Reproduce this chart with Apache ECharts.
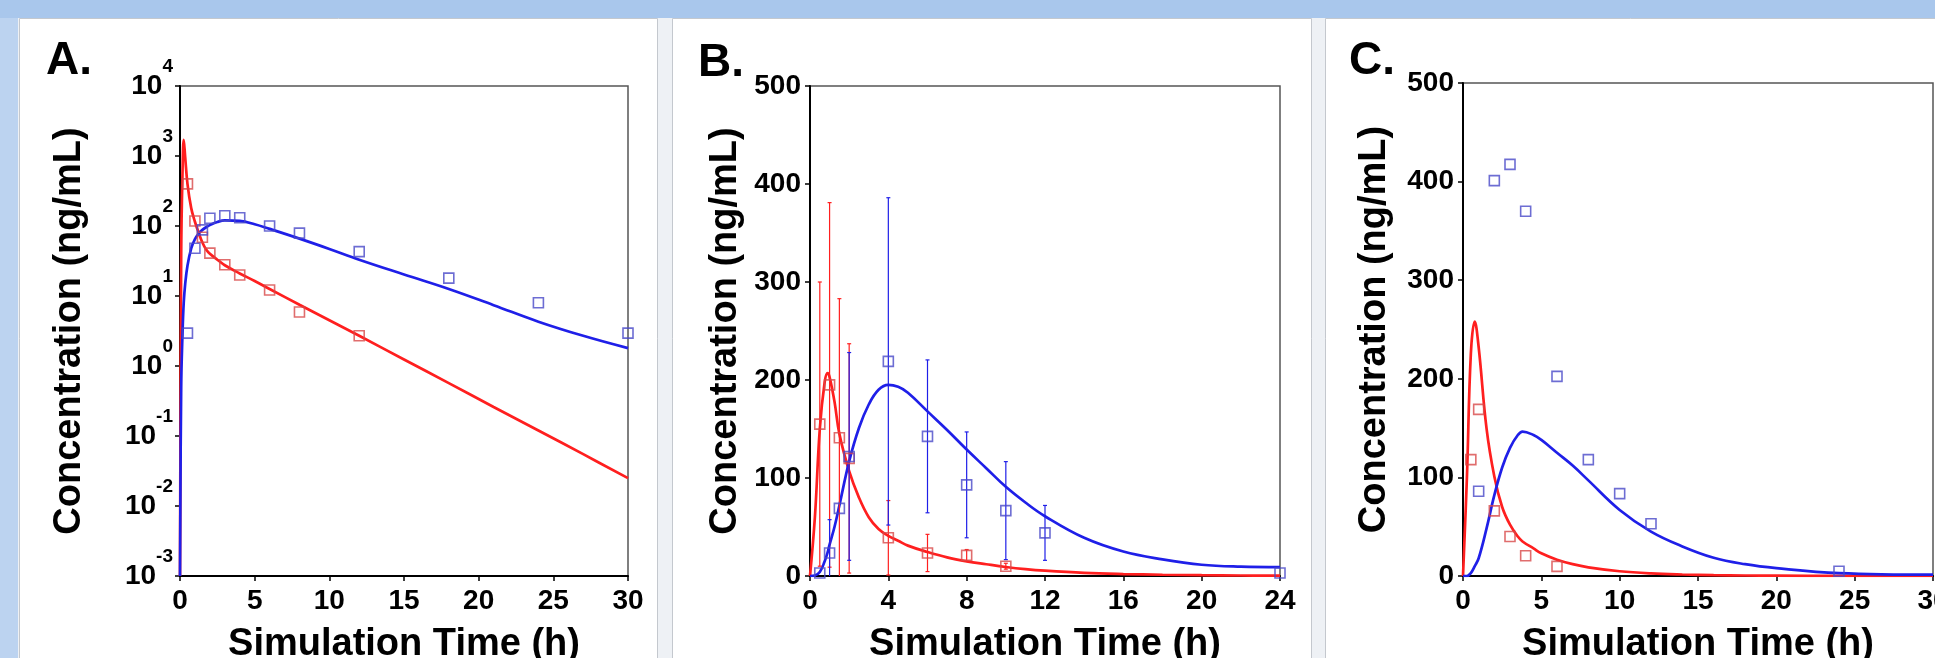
<!DOCTYPE html>
<html>
<head>
<meta charset="utf-8">
<script src="https://cdn.jsdelivr.net/npm/echarts@6/dist/echarts.min.js"></script>
<style>
  html, body { margin: 0; padding: 0; background: #bcd3f0; }
  #chart { width: 1935px; height: 658px; }
</style>
</head>
<body>
<div id="chart"></div>
<script>
// ---- Panel A (log scale) ----
const aLineTime = [0, 0.08, 0.17, 0.25, 0.35, 0.5, 0.75, 1, 1.25, 1.5, 1.75, 2, 2.5, 3, 4, 5, 6, 8, 10, 12, 15, 18, 21, 24, 27, 30];
const aRedLine = [0.001, 40, 600, 1700, 950, 400, 180, 115, 80, 58, 46, 40, 33, 27.5, 21, 16.4, 12.6, 7.5, 4.5, 2.7, 1.24, 0.57, 0.26, 0.12, 0.055, 0.025];
const aBlueLine = [0.001, 0.5, 3, 8, 15, 27, 48, 65, 78, 88, 96, 103, 114, 120, 118, 106, 91, 66, 47, 33, 20.3, 12.6, 7.4, 4.3, 2.7, 1.8];
const aRedObsTime = [0.5, 1, 1.5, 2, 3, 4, 6, 8, 12];
const aRedObs = [400, 118, 69, 41, 28, 20, 12.2, 5.9, 2.7];
const aBlueObsTime = [0.5, 1, 1.5, 2, 3, 4, 6, 8, 12, 18, 24, 30];
const aBlueObs = [2.95, 48, 88, 129, 140, 131, 100, 79, 43, 18, 8, 2.95];

// ---- Panel B (mean +/- SD) ----
const bLineTime = [0, 0.25, 0.5, 0.75, 0.9, 1, 1.25, 1.5, 2, 2.5, 3, 3.5, 4, 4.5, 5, 6, 7, 8, 9, 10, 11, 12, 14, 16, 18, 20, 22, 24];
const bRedLine = [0, 60, 150, 198, 207, 203, 178, 145, 107, 80, 60, 48, 41, 36, 31, 24.5, 19, 15, 12, 9.2, 7, 5.4, 3.2, 2, 1.3, 0.8, 0.5, 0.3];
const bBlueLine = [0, 0.5, 4, 15, 24, 32, 50, 72, 117, 151, 175, 190, 195, 193, 187, 168, 149, 129, 110, 91, 75, 61, 39, 25, 17, 11.5, 9.5, 9];
const bRedObsTime = [0.5, 1, 1.5, 2, 4, 6, 8, 10];
const bRedObs = [155, 195, 141, 120, 39, 23.5, 21, 10];
const bRedSd = [145, 186, 142, 117, 38, 19, 6, 3];
const bBlueObsTime = [0.5, 1, 1.5, 2, 4, 6, 8, 10, 12, 24];
const bBlueObs = [3, 23.5, 69, 122, 219, 142.5, 93, 66.7, 44, 3];
const bBlueSd = [0, 34, 0, 106, 167, 78, 54, 50, 28, 0];

// ---- Panel C ----
const cLineTime = [0, 0.25, 0.5, 0.75, 1, 1.5, 2, 2.5, 3, 3.5, 3.8, 4.5, 5, 6, 7, 8, 10, 12, 14, 16, 18, 20, 24, 30];
const cRedLine = [0, 100, 225, 258, 232, 150, 101, 70, 52, 40, 35, 28, 23, 16.5, 12, 8.8, 4.8, 2.6, 1.5, 0.9, 0.5, 0.3, 0.1, 0];
const cBlueLine = [0, 0, 3, 10, 18, 48, 82, 110, 130, 143, 146.5, 143, 138, 125, 112, 97, 67, 45, 30, 18.5, 12, 8, 3, 1.3];
const cRedObsTime = [0.5, 1, 2, 3, 4, 6];
const cRedObs = [118, 169, 66, 40, 20.6, 9.8];
const cBlueObsTime = [1, 2, 3, 4, 6, 8, 10, 12, 24];
const cBlueObs = [86, 401, 417.5, 370, 202.5, 118, 83.5, 53, 4.8];

const FONT = '"Liberation Sans", Arial, sans-serif';
const RED = "#ff1f1f";
const BLUE = "#1f1fe8";
const RED_MK = "#d84848";
const BLUE_MK = "#4848c8";

const pairs = (xs, ys) => xs.map((x, i) => [x, ys[i]]);

const chart = echarts.init(document.getElementById("chart"), null, { renderer: "canvas" });

const tickLabel = { color: "#000", fontSize: 28, fontWeight: "bold", fontFamily: FONT };
const titleText = { color: "#000", fontSize: 38, fontWeight: "bold", fontFamily: FONT };

function xAxis(idx, max, step) {
	return {
		type: "value", gridIndex: idx, min: 0, max: max, interval: step,
		name: "Simulation Time (h)", nameLocation: "middle", nameGap: 50,
		nameTextStyle: titleText,
		axisLine: { lineStyle: { color: "#000", width: 2 } },
		axisTick: { show: true, length: 5, lineStyle: { color: "#000", width: 1.5 } },
		axisLabel: Object.assign({ margin: 11 }, tickLabel),
		splitLine: { show: false },
	};
}

function yLinear(idx, gap) {
	return {
		type: "value", gridIndex: idx, min: 0, max: 500, interval: 100,
		name: "Concentration (ng/mL)", nameLocation: "middle", nameRotate: 90, nameGap: gap,
		nameTextStyle: titleText,
		axisLine: { show: true, lineStyle: { color: "#000", width: 2 } },
		axisTick: { show: true, length: 5, lineStyle: { color: "#000", width: 1.5 } },
		axisLabel: Object.assign({ margin: 9 }, tickLabel),
		splitLine: { show: false },
	};
}

function lineSeries(idx, xs, ys, color) {
	return {
		type: "line", xAxisIndex: idx, yAxisIndex: idx,
		data: pairs(xs, ys), showSymbol: false, smooth: 0.4,
		lineStyle: { color: color, width: 2.7 }, z: 3, silent: true,
	};
}

function markerSeries(idx, xs, ys, color) {
	return {
		type: "scatter", xAxisIndex: idx, yAxisIndex: idx,
		data: pairs(xs, ys), symbol: "rect", symbolSize: 10,
		itemStyle: { color: "rgba(255,255,255,0)", borderColor: color, borderWidth: 1.6 },
		z: 5, silent: true,
	};
}

// error bars drawn as thin vertical lines with tiny caps
function errorSeries(idx, xs, ys, sd, color) {
	return {
		type: "custom", xAxisIndex: idx, yAxisIndex: idx, clip: true, silent: true, z: 4,
		data: xs.map((x, i) => [x, ys[i] - sd[i], ys[i] + sd[i]]).filter((d) => d[2] > d[1]),
		renderItem: (params, api) => {
			const lo = api.coord([api.value(0), api.value(1)]);
			const hi = api.coord([api.value(0), api.value(2)]);
			const st = { stroke: color, lineWidth: 1.2 };
			return {
				type: "group",
				children: [
					{ type: "line", shape: { x1: lo[0], y1: lo[1], x2: hi[0], y2: hi[1] }, style: st },
					{ type: "line", shape: { x1: hi[0] - 2, y1: hi[1], x2: hi[0] + 2, y2: hi[1] }, style: st },
					{ type: "line", shape: { x1: lo[0] - 2, y1: lo[1], x2: lo[0] + 2, y2: lo[1] }, style: st },
				],
			};
		},
	};
}

const gridBase = {
	show: true, backgroundColor: "transparent", borderColor: "#555", borderWidth: 1.5,
	outerBoundsMode: "none", containLabel: false,
};

chart.setOption({
	backgroundColor: "#bcd3f0",
	animation: false,
	graphic: [
		{ type: "rect", z: -10, shape: { x: 0, y: 0, width: 1935, height: 18 }, style: { fill: "#a9c7ec" } },
		{ type: "rect", z: -10, shape: { x: 18, y: 18, width: 1917, height: 640 }, style: { fill: "#eef1f5" } },
		{ type: "rect", z: -9, shape: { x: 19.5, y: 18.5, width: 638, height: 650 }, style: { fill: "#fff", stroke: "#c4c8ce", lineWidth: 1 } },
		{ type: "rect", z: -9, shape: { x: 672.5, y: 18.5, width: 639, height: 650 }, style: { fill: "#fff", stroke: "#c4c8ce", lineWidth: 1 } },
		{ type: "rect", z: -9, shape: { x: 1325.5, y: 18.5, width: 640, height: 650 }, style: { fill: "#fff", stroke: "#c4c8ce", lineWidth: 1 } },
		{ type: "text", left: 46, top: 38, style: { text: "A.", font: "bold 46px " + FONT, fill: "#000" } },
		{ type: "text", left: 698, top: 40, style: { text: "B.", font: "bold 46px " + FONT, fill: "#000" } },
		{ type: "text", left: 1349, top: 38, style: { text: "C.", font: "bold 46px " + FONT, fill: "#000" } },
	],
	grid: [
		Object.assign({ left: 180, top: 86, width: 448, height: 490 }, gridBase),
		Object.assign({ left: 810, top: 86, width: 470, height: 490 }, gridBase),
		Object.assign({ left: 1463, top: 83, width: 470, height: 493 }, gridBase),
	],
	xAxis: [xAxis(0, 30, 5), xAxis(1, 24, 4), xAxis(2, 30, 5)],
	yAxis: [
		{
			type: "log", gridIndex: 0, logBase: 10, min: 0.001, max: 10000, interval: 1,
			name: "Concentration (ng/mL)", nameLocation: "middle", nameRotate: 90, nameGap: 91,
			nameTextStyle: titleText,
			axisLine: { show: true, lineStyle: { color: "#000", width: 2 } },
			axisTick: { show: true, length: 5, lineStyle: { color: "#000", width: 1.5 } },
			minorTick: { show: false },
			splitLine: { show: false },
			axisLabel: {
				margin: 7,
				formatter: (v) => "{b|10}{s|" + Math.round(Math.log10(v)) + "}",
				rich: {
					b: { fontSize: 28, fontWeight: "bold", fontFamily: FONT, color: "#000" },
					s: { fontSize: 19, fontWeight: "bold", fontFamily: FONT, color: "#000", padding: [0, 0, 38, 0] },
				},
			},
		},
		yLinear(1, 65),
		yLinear(2, 69),
	],
	series: [
		lineSeries(0, aLineTime, aRedLine, RED),
		lineSeries(0, aLineTime, aBlueLine, BLUE),
		markerSeries(0, aRedObsTime, aRedObs, RED_MK),
		markerSeries(0, aBlueObsTime, aBlueObs, BLUE_MK),

		lineSeries(1, bLineTime, bRedLine, RED),
		lineSeries(1, bLineTime, bBlueLine, BLUE),
		errorSeries(1, bRedObsTime, bRedObs, bRedSd, RED),
		errorSeries(1, bBlueObsTime, bBlueObs, bBlueSd, BLUE),
		markerSeries(1, bRedObsTime, bRedObs, RED_MK),
		markerSeries(1, bBlueObsTime, bBlueObs, BLUE_MK),

		lineSeries(2, cLineTime, cRedLine, RED),
		lineSeries(2, cLineTime, cBlueLine, BLUE),
		markerSeries(2, cRedObsTime, cRedObs, RED_MK),
		markerSeries(2, cBlueObsTime, cBlueObs, BLUE_MK),
	],
});
</script>
</body>
</html>
